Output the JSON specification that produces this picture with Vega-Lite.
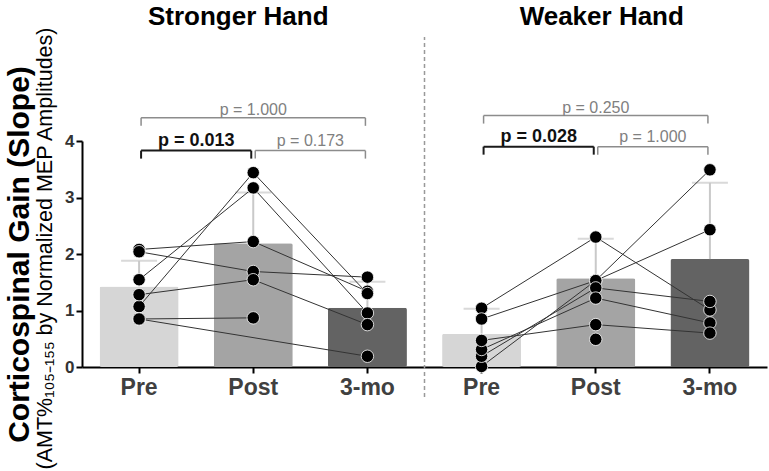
{
  "$schema": "https://vega.github.io/schema/vega-lite/v6.json",
  "width": 685,
  "height": 226,
  "autosize": {"type": "none"},
  "padding": {"left": 82, "top": 141, "right": 2, "bottom": 104},
  "background": "white",
  "config": {"view": {"stroke": null}, "font": "Liberation Sans"},
  "datasets": {
    "bars": [
      {"cat": "S|Pre", "visit": "Pre", "mean": 1.425, "upper": 1.88},
      {"cat": "S|Post", "visit": "Post", "mean": 2.19, "upper": 3.09},
      {"cat": "S|3-mo", "visit": "3-mo", "mean": 1.05, "upper": 1.51},
      {"cat": "W|Pre", "visit": "Pre", "mean": 0.59, "upper": 1.03},
      {"cat": "W|Post", "visit": "Post", "mean": 1.57, "upper": 2.27},
      {"cat": "W|3-mo", "visit": "3-mo", "mean": 1.91, "upper": 3.26}
    ],
    "pts": [
      {"id": "S1", "cat": "S|Pre", "t": 1, "v": 2.08},
      {"id": "S1", "cat": "S|Post", "t": 2, "v": 2.22},
      {"id": "S1", "cat": "S|3-mo", "t": 3, "v": 1.34},
      {"id": "S2", "cat": "S|Pre", "t": 1, "v": 2.04},
      {"id": "S2", "cat": "S|Post", "t": 2, "v": 1.69},
      {"id": "S2", "cat": "S|3-mo", "t": 3, "v": 1.59},
      {"id": "S3", "cat": "S|Pre", "t": 1, "v": 1.545},
      {"id": "S3", "cat": "S|Post", "t": 2, "v": 3.17},
      {"id": "S3", "cat": "S|3-mo", "t": 3, "v": 0.955},
      {"id": "S4", "cat": "S|Pre", "t": 1, "v": 1.07},
      {"id": "S4", "cat": "S|Post", "t": 2, "v": 3.44},
      {"id": "S4", "cat": "S|3-mo", "t": 3, "v": 1.3},
      {"id": "S5", "cat": "S|Pre", "t": 1, "v": 1.28},
      {"id": "S5", "cat": "S|Post", "t": 2, "v": 1.545},
      {"id": "S5", "cat": "S|3-mo", "t": 3, "v": 0.75},
      {"id": "S6", "cat": "S|Pre", "t": 1, "v": 0.85},
      {"id": "S6", "cat": "S|Post", "t": 2, "v": 0.87},
      {"id": "S7", "cat": "S|Pre", "t": 1, "v": 0.85},
      {"id": "S7", "cat": "S|3-mo", "t": 3, "v": 0.19},
      {"id": "W1", "cat": "W|Pre", "t": 1, "v": 1.04},
      {"id": "W1", "cat": "W|Post", "t": 2, "v": 2.3},
      {"id": "W1", "cat": "W|3-mo", "t": 3, "v": 1.01},
      {"id": "W2", "cat": "W|Pre", "t": 1, "v": 0.85},
      {"id": "W2", "cat": "W|Post", "t": 2, "v": 1.53},
      {"id": "W2", "cat": "W|3-mo", "t": 3, "v": 2.43},
      {"id": "W3", "cat": "W|Pre", "t": 1, "v": 0.01},
      {"id": "W3", "cat": "W|Post", "t": 2, "v": 1.53},
      {"id": "W3", "cat": "W|3-mo", "t": 3, "v": 3.49},
      {"id": "W4", "cat": "W|Pre", "t": 1, "v": 0.19},
      {"id": "W4", "cat": "W|Post", "t": 2, "v": 1.4},
      {"id": "W4", "cat": "W|3-mo", "t": 3, "v": 1.16},
      {"id": "W5", "cat": "W|Pre", "t": 1, "v": 0.31},
      {"id": "W5", "cat": "W|Post", "t": 2, "v": 1.22},
      {"id": "W5", "cat": "W|3-mo", "t": 3, "v": 0.78},
      {"id": "W6", "cat": "W|Pre", "t": 1, "v": 0.47},
      {"id": "W6", "cat": "W|Post", "t": 2, "v": 0.75},
      {"id": "W6", "cat": "W|3-mo", "t": 3, "v": 0.6},
      {"id": "W7", "cat": "W|Post", "t": 2, "v": 0.49}
    ],
    "brk": [
      {"from": "S|Pre", "to": "S|Post", "mid": "S|Post", "y": 3.83, "label": "p = 0.013", "sig": true, "kind": "adj"},
      {"from": "S|Post", "to": "S|3-mo", "mid": "S|3-mo", "y": 3.83, "label": "p = 0.173", "sig": false, "kind": "adj"},
      {"from": "S|Pre", "to": "S|3-mo", "mid": "S|Post", "y": 4.41, "label": "p = 1.000", "sig": false, "kind": "top"},
      {"from": "W|Pre", "to": "W|Post", "mid": "W|Post", "y": 3.9, "label": "p = 0.028", "sig": true, "kind": "adj"},
      {"from": "W|Post", "to": "W|3-mo", "mid": "W|3-mo", "y": 3.9, "label": "p = 1.000", "sig": false, "kind": "adj"},
      {"from": "W|Pre", "to": "W|3-mo", "mid": "W|Post", "y": 4.45, "label": "p = 0.250", "sig": false, "kind": "top"}
    ]
  },
  "layer": [
    {
      "data": {"name": "bars"},
      "mark": {"type": "bar", "cornerRadius": 2},
      "encoding": {
        "x": {
          "field": "cat", "type": "nominal", "sort": null,
          "scale": {"domain": ["S|Pre", "S|Post", "S|3-mo", "W|Pre", "W|Post", "W|3-mo"], "paddingInner": 0.308, "paddingOuter": 0.154},
          "axis": {
            "title": null, "labelExpr": "split(datum.label, '|')[1]",
            "labelFont": "Liberation Sans", "labelFontSize": 23, "labelFontWeight": "bold", "labelColor": "#404040",
            "labelAngle": 0, "labelPadding": 3, "tickSize": 6, "tickWidth": 2, "tickColor": "#000",
            "domainColor": "#000", "domainWidth": 2, "grid": false
          }
        },
        "y": {
          "field": "mean", "type": "quantitative",
          "scale": {"domain": [0, 4], "nice": false},
          "axis": {
            "orient": "left", "values": [0, 1, 2, 3, 4],
            "title": "Corticospinal Gain (Slope)", "titleFont": "Liberation Sans", "titleFontSize": 30,
            "titleFontWeight": "bold", "titleColor": "#000", "titleX": -63, "titleY": 113, "titleBaseline": "middle",
            "labelFont": "Liberation Sans", "labelFontSize": 17, "labelFontWeight": "bold", "labelColor": "#333",
            "labelPadding": 2, "tickSize": 6, "tickWidth": 2, "tickColor": "#000",
            "domainColor": "#000", "domainWidth": 2, "grid": false
          }
        },
        "color": {
          "field": "visit", "type": "nominal", "legend": null,
          "scale": {"domain": ["Pre", "Post", "3-mo"], "range": ["#d6d6d6", "#a4a4a4", "#636363"]}
        }
      }
    },
    {
      "data": {"name": "bars"},
      "mark": {"type": "rule", "color": "#c9c9c9", "strokeWidth": 2},
      "encoding": {
        "x": {"field": "cat", "type": "nominal", "title": null},
        "y": {"field": "mean", "type": "quantitative", "axis": null},
        "y2": {"field": "upper"}
      }
    },
    {
      "data": {"name": "bars"},
      "mark": {"type": "tick", "color": "#c9c9c9", "size": 36, "thickness": 2, "orient": "horizontal"},
      "encoding": {
        "x": {"field": "cat", "type": "nominal", "title": null},
        "y": {"field": "upper", "type": "quantitative", "axis": null}
      }
    },
    {
      "data": {"name": "pts"},
      "mark": {"type": "line", "color": "#333", "strokeWidth": 1},
      "encoding": {
        "x": {"field": "cat", "type": "nominal", "title": null},
        "y": {"field": "v", "type": "quantitative", "axis": null},
        "detail": {"field": "id"},
        "order": {"field": "t"}
      }
    },
    {
      "data": {"name": "pts"},
      "mark": {"type": "point", "filled": true, "fill": "#000", "stroke": "#fff", "strokeWidth": 0.8, "opacity": 1, "size": 155},
      "encoding": {
        "x": {"field": "cat", "type": "nominal", "title": null},
        "y": {
          "field": "v", "type": "quantitative",
          "axis": {
            "orient": "left", "labels": false, "ticks": false, "domain": false, "grid": false,
            "title": "(AMT%₁₀₅₋₁₅₅ by Normalized MEP Amplitudes)", "titleFont": "Liberation Sans",
            "titleFontSize": 21.5, "titleFontWeight": "normal", "titleColor": "#000",
            "titleX": -37, "titleY": 107, "titleBaseline": "middle"
          }
        }
      }
    },
    {
      "data": {"name": "brk"},
      "mark": {"type": "rule", "xOffset": 2, "x2Offset": -2},
      "encoding": {
        "x": {"field": "from", "type": "nominal", "title": null},
        "x2": {"field": "to"},
        "y": {"field": "y", "type": "quantitative", "axis": null},
        "color": {"condition": {"test": "datum.sig", "value": "#1a1a1a"}, "value": "#8c8c8c"},
        "strokeWidth": {"condition": {"test": "datum.sig", "value": 2}, "value": 1.5}
      }
    },
    {
      "data": {"name": "brk"},
      "mark": {"type": "rule", "xOffset": 2, "y2Offset": 8},
      "encoding": {
        "x": {"field": "from", "type": "nominal", "title": null},
        "y": {"field": "y", "type": "quantitative", "axis": null},
        "y2": {"field": "y"},
        "color": {"condition": {"test": "datum.sig", "value": "#1a1a1a"}, "value": "#8c8c8c"},
        "strokeWidth": {"condition": {"test": "datum.sig", "value": 2}, "value": 1.5}
      }
    },
    {
      "data": {"name": "brk"},
      "mark": {"type": "rule", "xOffset": -2, "y2Offset": 8},
      "encoding": {
        "x": {"field": "to", "type": "nominal", "title": null},
        "y": {"field": "y", "type": "quantitative", "axis": null},
        "y2": {"field": "y"},
        "color": {"condition": {"test": "datum.sig", "value": "#1a1a1a"}, "value": "#8c8c8c"},
        "strokeWidth": {"condition": {"test": "datum.sig", "value": 2}, "value": 1.5}
      }
    },
    {
      "data": {"name": "brk"},
      "transform": [{"filter": "datum.kind === 'adj' && datum.sig"}],
      "mark": {"type": "text", "font": "Liberation Sans", "fontSize": 18, "fontWeight": "bold", "color": "#111", "baseline": "alphabetic", "dy": -5},
      "encoding": {
        "x": {"field": "from", "type": "nominal", "title": null, "bandPosition": 1.2225},
        "y": {"field": "y", "type": "quantitative", "axis": null},
        "text": {"field": "label"}
      }
    },
    {
      "data": {"name": "brk"},
      "transform": [{"filter": "datum.kind === 'adj' && !datum.sig"}],
      "mark": {"type": "text", "font": "Liberation Sans", "fontSize": 16, "color": "#808080", "baseline": "alphabetic", "dy": -5},
      "encoding": {
        "x": {"field": "from", "type": "nominal", "title": null, "bandPosition": 1.2225},
        "y": {"field": "y", "type": "quantitative", "axis": null},
        "text": {"field": "label"}
      }
    },
    {
      "data": {"name": "brk"},
      "transform": [{"filter": "datum.kind === 'top'"}],
      "mark": {"type": "text", "font": "Liberation Sans", "fontSize": 16, "color": "#808080", "baseline": "alphabetic", "dy": -3},
      "encoding": {
        "x": {"field": "mid", "type": "nominal", "title": null},
        "y": {"field": "y", "type": "quantitative", "axis": null},
        "text": {"field": "label"}
      }
    },
    {
      "data": {"values": [{"name": "Stronger Hand", "cat": "S|Post"}]},
      "mark": {"type": "text", "font": "Liberation Sans", "fontSize": 26, "fontWeight": "bold", "color": "#000", "baseline": "alphabetic", "dx": -15},
      "encoding": {
        "x": {"field": "cat", "type": "nominal", "title": null},
        "y": {"datum": 6.06, "type": "quantitative", "axis": null},
        "text": {"field": "name"}
      }
    },
    {
      "data": {"values": [{"name": "Weaker Hand", "cat": "W|Post"}]},
      "mark": {"type": "text", "font": "Liberation Sans", "fontSize": 26, "fontWeight": "bold", "color": "#000", "baseline": "alphabetic", "dx": 6},
      "encoding": {
        "x": {"field": "cat", "type": "nominal", "title": null},
        "y": {"datum": 6.06, "type": "quantitative", "axis": null},
        "text": {"field": "name"}
      }
    },
    {
      "data": {"values": [{"cat": "W|Pre", "lo": -0.53, "hi": 5.84}]},
      "mark": {"type": "rule", "strokeDash": [4, 3], "color": "#999", "strokeWidth": 1.5},
      "encoding": {
        "x": {"field": "cat", "type": "nominal", "title": null, "bandPosition": -0.2225},
        "y": {"field": "lo", "type": "quantitative", "axis": null},
        "y2": {"field": "hi"}
      }
    }
  ],
  "resolve": {"axis": {"y": "independent"}}
}
